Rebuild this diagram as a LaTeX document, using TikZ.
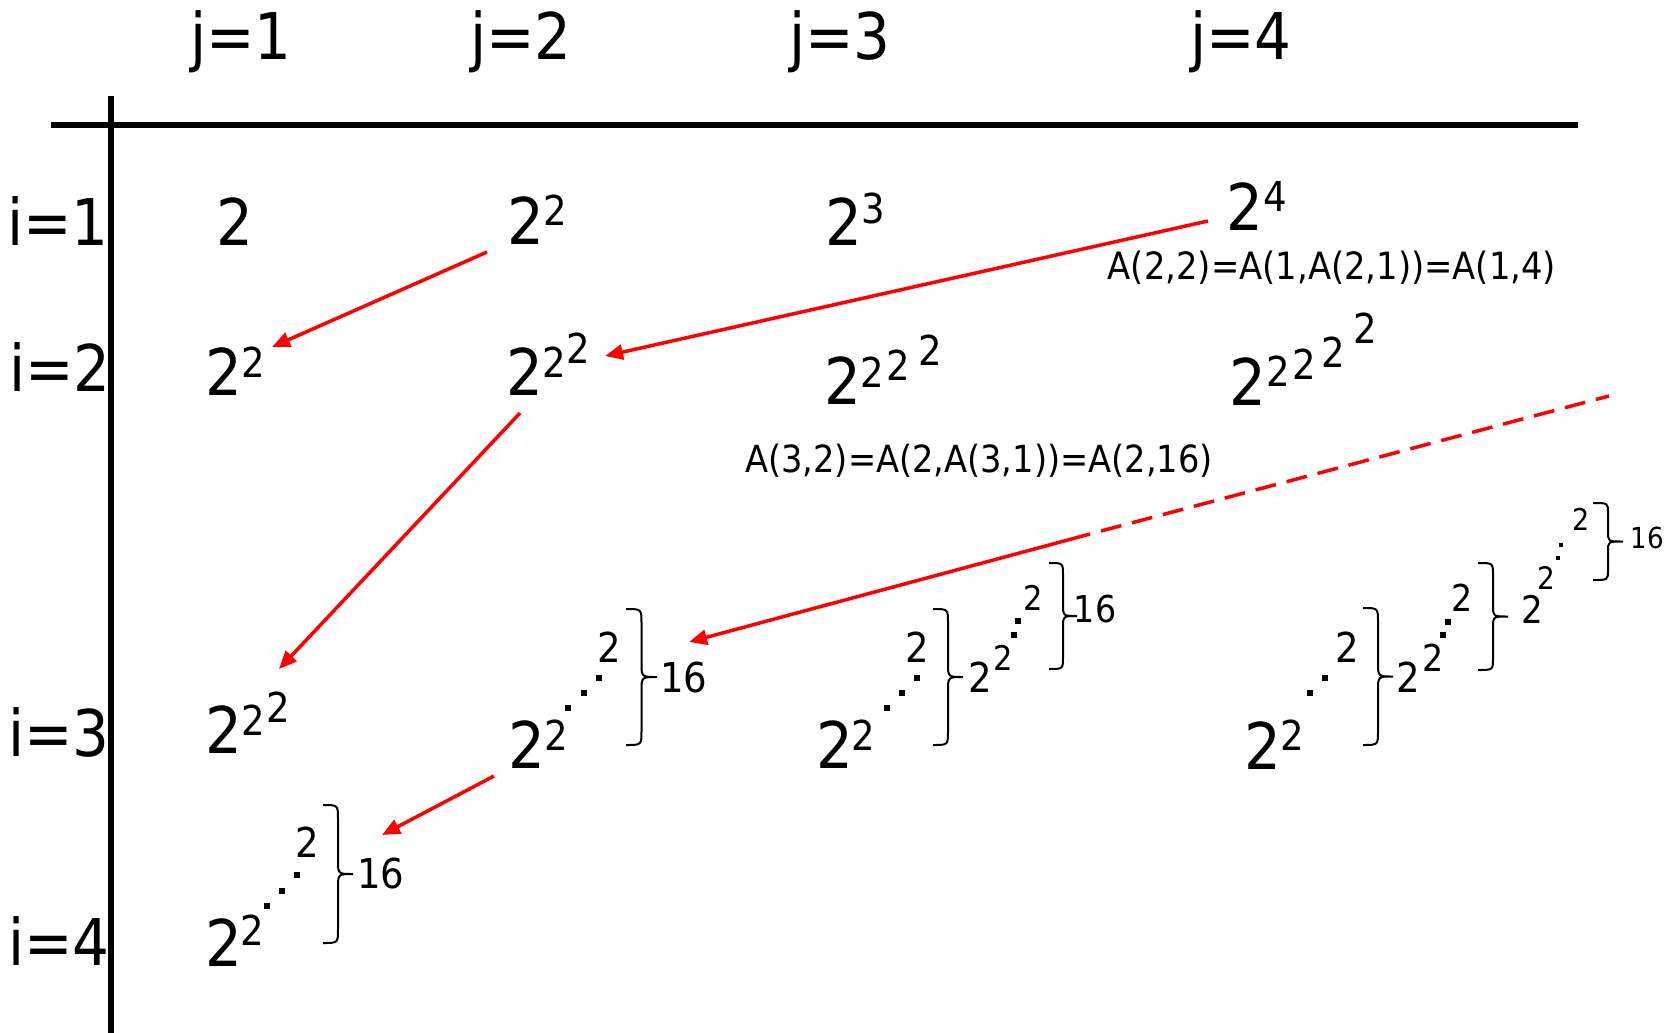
\documentclass[tikz,border=0pt]{standalone}
\usepackage{fontspec}
\setmainfont{DejaVu Sans Condensed}
\usetikzlibrary{arrows.meta}
% curly brace pointing right: #1 = x of ends, #2 = top y, #3 = bottom y, #4 = width, #5 = curl size
\newcommand{\akbrace}[5]{%
  \draw[bracestyle] (#1,#2) .. controls ({#1+#4/2},#2) .. ({#1+#4/2},{#2+#5})
    -- ({#1+#4/2},{(#2+#3)/2-#5}) .. controls ({#1+#4/2},{(#2+#3)/2}) .. ({#1+#4},{(#2+#3)/2})
    .. controls ({#1+#4/2},{(#2+#3)/2}) .. ({#1+#4/2},{(#2+#3)/2+#5})
    -- ({#1+#4/2},{#3-#5}) .. controls ({#1+#4/2},#3) .. (#1,#3);}
\begin{document}
\begin{tikzpicture}[x=0.5pt,y=-0.5pt,
  txt/.style={inner sep=0pt,outer sep=0pt,font=\fontsize{#1}{#1}\selectfont},
  big/.style={txt=32.2},
  sm/.style={txt=20.6},
  axisline/.style={line width=3.2pt,black},
  redarrow/.style={draw=red,line width=1.75pt,-{Triangle[length=9pt,width=7.5pt]}},
  reddash/.style={draw=red,line width=1.75pt,dash pattern=on 10.5pt off 5.5pt},
  bracestyle/.style={line width=1pt,black},
  dotmark/.style={fill=black,inner sep=0pt,minimum size=2.6pt,rectangle}
]
\useasboundingbox (0,0) rectangle (1676,1033);
% axes
\coordinate (hl) at (51,125); \coordinate (hr) at (1578,125);
\coordinate (vt) at (111,96); \coordinate (vb) at (111,1033);
\draw[axisline] (hl) -- (hr);
\draw[axisline] (vt) -- (vb);
% headers
\node[big,anchor=base] (j1) at (241,59) {j=1};
\node[big,anchor=base] (j2) at (521,59) {j=2};
\node[big,anchor=base] (j3) at (840,59) {j=3};
\node[big,anchor=base] (j4) at (1241,59) {j=4};
\node[big,anchor=base] (i1) at (58,245) {i=1};
\node[big,anchor=base] (i2) at (60,391) {i=2};
\node[big,anchor=base] (i3) at (59,756) {i=3};
\node[big,anchor=base] (i4) at (59,965) {i=4};
% row 1
\node[big] (c11) at (235,222) {2};
\node[big] (c12) at (526,221) {2};
\node[sm] (c12a) at (555,210) {2};
\node[big] (c13) at (844,222) {2};
\node[sm] (c13a) at (873,208) {3};
\node[big] (c14) at (1245,207) {2};
\node[sm] (c14a) at (1275,196) {4};
\node[txt=18.8,anchor=base] (lab1) at (1332,279) {A(2,2)=A(1,A(2,1))=A(1,4)};
% row 2
\node[big] (c21) at (224,372) {2};
\node[sm] (c21a) at (253,362) {2};
\node[big] (c22) at (525,372) {2};
\node[sm] (c22a) at (554,362) {2};
\node[sm] (c22b) at (578,348) {2};
\node[big] (c23) at (843,381) {2};
\node[sm] (c23a) at (872,372) {2};
\node[sm] (c23b) at (898,365) {2};
\node[sm] (c23c) at (930,350) {2};
\node[big] (c24) at (1248,382) {2};
\node[sm] (c24a) at (1278,371) {2};
\node[sm] (c24b) at (1304,364) {2};
\node[sm] (c24c) at (1333,352) {2};
\node[sm] (c24d) at (1365,328) {2};
\node[txt=18.7,anchor=base] (lab2) at (979,472) {A(3,2)=A(2,A(3,1))=A(2,16)};
% row 3
\node[big] (c31) at (224,730) {2};
\node[sm] (c31a) at (253,720) {2};
\node[sm] (c31b) at (278,707) {2};
% (3,2)
\node[big] (c32) at (527,745) {2};
\node[sm] (c32a) at (556,735) {2};
\node[dotmark] (c32d1) at (568,708) {};
\node[dotmark] (c32d2) at (584,693) {};
\node[dotmark] (c32d3) at (599,678) {};
\node[sm] (c32t) at (609,647) {2};
\akbrace{626}{609}{745}{31}{14}
\node[sm] (c32n) at (684,677) {16};
% (3,3)
\node[big] (c33) at (835,745) {2};
\node[sm] (c33a) at (863,735) {2};
\node[dotmark] (c33d1) at (887,708) {};
\node[dotmark] (c33d2) at (902,693) {};
\node[dotmark] (c33d3) at (917,678) {};
\node[sm] (c33t) at (917,647) {2};
\akbrace{933}{609}{745}{30}{14}
\node[sm] (c33m) at (980,677) {2};
\node[txt=17] (c33ma) at (1003,658) {2};
\node[dotmark] (c33d4) at (1014,635) {};
\node[dotmark] (c33d5) at (1018,621) {};
\node[txt=17] (c33mt) at (1033,598) {2};
\akbrace{1049}{563}{669}{28}{12}
\node[txt=18.5] (c33n) at (1095,609) {16};
% (3,4)
\node[big] (c34) at (1263,746) {2};
\node[sm] (c34a) at (1292,735) {2};
\node[dotmark] (c34d1) at (1310,693) {};
\node[dotmark] (c34d2) at (1325,678) {};
\node[sm] (c34t) at (1347,647) {2};
\akbrace{1363}{608}{745}{30}{14}
\node[sm] (c34m) at (1408,677) {2};
\node[txt=18.5] (c34ma) at (1433,658) {2};
\node[dotmark] (c34d3) at (1443,635) {};
\node[dotmark] (c34d4) at (1448,622) {};
\node[txt=18.5] (c34mt) at (1462,598) {2};
\akbrace{1478}{563}{670}{30}{12}
\node[txt=19] (c34k) at (1532,609) {2};
\node[txt=15.5] (c34ka) at (1546,578) {2};
\node[dotmark,minimum size=2.2pt] (c34d5) at (1558,558) {};
\node[dotmark,minimum size=2.2pt] (c34d6) at (1561,545) {};
\node[txt=15] (c34kt) at (1581,519) {2};
\akbrace{1593}{503}{580}{30}{10}
\node[txt=14.5] (c34n) at (1647,538) {16};
% row 4
\node[big] (c41) at (224,943) {2};
\node[sm] (c41a) at (252,930) {2};
\node[dotmark] (c41d1) at (267,906) {};
\node[dotmark] (c41d2) at (282,891) {};
\node[dotmark] (c41d3) at (297,875) {};
\node[sm] (c41t) at (307,842) {2};
\akbrace{323}{805}{943}{30}{14}
\node[sm] (c41n) at (381,873) {16};
% arrows
\coordinate (a1s) at (487,252); \coordinate (a1e) at (272,347);
\coordinate (a2s) at (1208,221); \coordinate (a2e) at (605,356);
\coordinate (a3s) at (520,413); \coordinate (a3e) at (279,669);
\coordinate (a4s) at (1090,534); \coordinate (a4e) at (689,642);
\coordinate (a4d) at (1101,531); \coordinate (a4f) at (1609,396);
\coordinate (a5s) at (494,776); \coordinate (a5e) at (382,835);
\draw[redarrow] (a1s) -- (a1e);
\draw[redarrow] (a2s) -- (a2e);
\draw[redarrow] (a3s) -- (a3e);
\draw[redarrow] (a4s) -- (a4e);
\draw[reddash] (a4d) -- (a4f);
\draw[redarrow] (a5s) -- (a5e);
\end{tikzpicture}
\end{document}
